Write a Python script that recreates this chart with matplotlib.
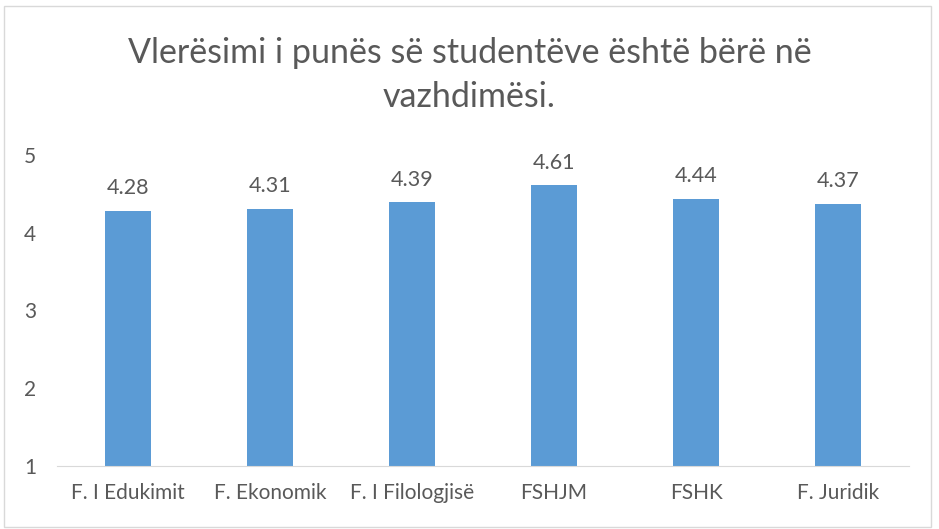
import matplotlib.pyplot as plt
from matplotlib.patches import Rectangle

plt.rcParams['font.family'] = ['Lato', 'DejaVu Sans']

fakultetet = ['F. I Edukimit', 'F. Ekonomik', 'F. I Filologjisë', 'FSHJM', 'FSHK', 'F. Juridik']
vleresimi = [4.28, 4.31, 4.39, 4.61, 4.44, 4.37]

gri = '#595959'

fig = plt.figure(figsize=(9.39, 5.29), dpi=100)
ax = fig.add_axes([57 / 939, 1 - 466 / 529, (909 - 57) / 939, (466 - 155) / 529])

# kornizë rreth grafikut
fig.patches.append(Rectangle((4 / 939, 2 / 529), 927 / 939, 521 / 529, transform=fig.transFigure,
                             fill=False, edgecolor='#D9D9D9', linewidth=1))

bars = ax.bar(range(len(fakultetet)), vleresimi, width=0.32, bottom=0, color='#5B9BD5')
ax.set_ylim(1, 5)
ax.set_xlim(-0.5, len(fakultetet) - 0.5)
ax.set_yticks([1, 2, 3, 4, 5])
ax.set_xticks(range(len(fakultetet)))
ax.set_xticklabels(fakultetet)
ax.tick_params(length=0, labelsize=15, colors=gri, pad=12)
ax.tick_params(axis='y', pad=15)
for s in ['top', 'right', 'left']:
    ax.spines[s].set_visible(False)
ax.spines['bottom'].set_color('#D9D9D9')

ax.bar_label(bars, labels=[f'{v:.2f}' for v in vleresimi], padding=9, fontsize=15.5, color=gri)

fig.text(0.5, 1 - 75 / 529, 'Vlerësimi i punës së studentëve është bërë në\nvazhdimësi.',
         ha='center', va='center', fontsize=24.5, color=gri, linespacing=1.45)

fig.savefig('out.png', dpi=100)
